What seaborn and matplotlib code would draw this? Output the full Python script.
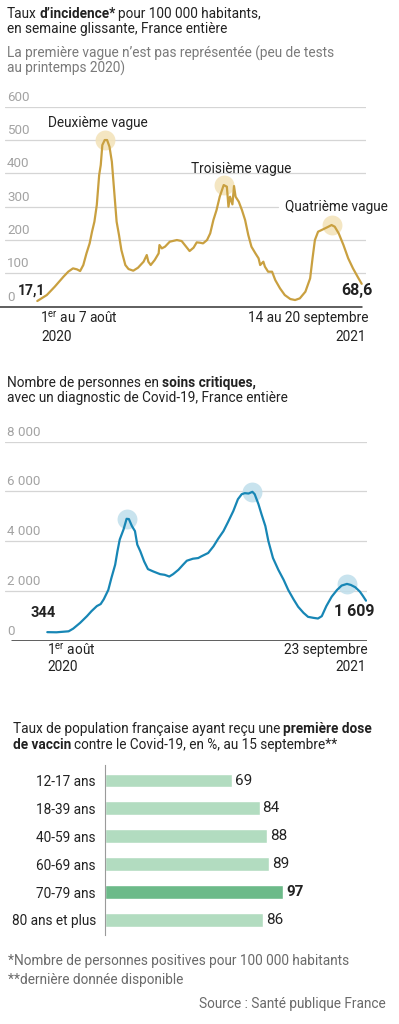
"""Covid-19 France: incidence, soins critiques et première dose de vaccin (infographie verticale)."""

import matplotlib
matplotlib.use("Agg")
import matplotlib.pyplot as plt
import seaborn as sns
import pandas as pd
import numpy as np

sns.set_theme(style="white")
plt.rcParams["font.family"] = ["Roboto", "DejaVu Sans"]
plt.rcParams["mathtext.fontset"] = "custom"
plt.rcParams["mathtext.rm"] = "Roboto"
plt.rcParams["mathtext.bf"] = "Roboto:bold"

# --- données -----------------------------------------------------------------
# taux d'incidence, jours depuis la semaine du 1er au 7 août 2020
inc_day = [0, 12, 22, 33, 39, 45, 50, 54, 58, 62, 66, 69, 72, 75, 78, 80, 82, 85, 88, 91,
           94, 97, 100, 103, 106, 111, 115, 121, 127, 134, 138, 140, 143, 148, 153, 154, 157, 161, 167, 176,
           182, 186, 192, 197, 201, 205, 209, 214, 218, 222, 226, 230, 235, 239, 241, 243, 246, 248, 250, 254,
           258, 262, 266, 270, 275, 279, 281, 285, 287, 291, 296, 300, 306, 312, 319, 325, 331, 338, 344, 347,
           350, 354, 361, 367, 371, 375, 380, 386, 392, 398, 405, 409]
inc_val = [17.1, 35, 60, 90, 105, 115, 112, 107, 125, 160, 190, 225, 255, 305, 395, 425, 485, 500, 500, 480,
           435, 345, 255, 215, 170, 125, 113, 108, 117, 135, 155, 135, 125, 140, 160, 185, 175, 180, 195, 200,
           197, 185, 167, 177, 193, 192, 190, 200, 220, 260, 290, 330, 365, 360, 300, 330, 307, 362, 330, 315,
           290, 260, 215, 180, 160, 145, 125, 135, 120, 105, 105, 80, 55, 35, 23, 20, 25, 45, 85, 145,
           200, 225, 233, 240, 245, 240, 220, 185, 145, 115, 85, 68.6]
inc_ticks = [0, 100, 200, 300, 400, 500, 600]
inc_waves = ["Deuxième vague", "Troisième vague", "Quatrième vague"]
inc_wave_windows = [(60, 120), (220, 260), (340, 400)]

# personnes en soins critiques, jours depuis le 1er août 2020
rea_day = [0, 12, 28, 34, 43, 52, 58, 65, 70, 74, 80, 84, 89, 92, 95, 100, 104, 107, 111, 115,
           118, 122, 127, 132, 139, 148, 154, 160, 165, 172, 178, 183, 191, 198, 202, 211, 218, 224, 231, 237,
           244, 250, 255, 259, 264, 269, 272, 277, 281, 286, 290, 296, 303, 310, 316, 323, 329, 336, 342, 349,
           355, 360, 366, 373, 380, 386, 393, 398, 404, 410, 414, 418]
rea_val = [344, 338, 378, 486, 716, 986, 1189, 1392, 1473, 1662, 2040, 2513, 3053, 3594, 4067, 4472, 4900, 4890, 4607, 4404,
           3864, 3594, 3188, 2878, 2783, 2675, 2648, 2580, 2675, 2851, 3053, 3215, 3296, 3323, 3391, 3526, 3796, 4094, 4404, 4769,
           5215, 5688, 5890, 5931, 5917, 5985, 5890, 5485, 5080, 4607, 3999, 3323, 2851, 2445, 2040, 1662, 1365, 1121, 959, 919,
           892, 986, 1392, 1770, 2040, 2216, 2283, 2243, 2148, 1972, 1797, 1609]
rea_ticks = [0, 2000, 4000, 6000, 8000]
rea_tick_labels = ["0", "2 000", "4 000", "6 000", "8 000"]
rea_wave_windows = [(80, 140), (230, 300), (370, 418)]

# première dose de vaccin, en %
age_groups = ["12-17 ans", "18-39 ans", "40-59 ans", "60-69 ans", "70-79 ans", "80 ans et plus"]
first_dose = [69, 84, 88, 89, 97, 86]
highlight_group = "70-79 ans"

# --- mise en page (pixels) ---------------------------------------------------
W, H = 399, 1024
fig = plt.figure(figsize=(W / 100, H / 100), dpi=100)
fig.patch.set_facecolor("white")
renderer = fig.canvas.get_renderer()

DARK = "#222222"
GOLD, GOLD_HALO = "#c9a040", "#f3e2b8"
BLUE, BLUE_HALO = "#1786b5", "#bfdeeb"
GRID = "#d5d5d5"
TICK = "#a3a3a3"
FS = 9.8


def px_axes(x0, y0, x1, y1):
    ax = fig.add_axes([x0 / W, 1 - y1 / H, (x1 - x0) / W, (y1 - y0) / H])
    ax.set_facecolor("none")
    for s in ax.spines.values():
        s.set_visible(False)
    return ax


def ftext(x, y, s, **kw):
    kw.setdefault("fontsize", FS)
    kw.setdefault("color", DARK)
    return fig.text(x / W, 1 - y / H, s, **kw)


def text_width(s, size, weight):
    t = fig.text(0, 0, s, fontsize=size, fontweight=weight)
    w = t.get_window_extent(renderer).width
    t.remove()
    return w


def rich(x, y, parts, size=FS, color=DARK):
    """Words in normal/bold laid out one after the other on a baseline."""
    for s, bold in parts:
        weight = "bold" if bold else "normal"
        ftext(round(x), y, s, fontsize=size, color=color, va="baseline", fontweight=weight)
        x += text_width(s + " x", size, weight) - text_width("x", size, weight) - 0.7


def line_panel(ax, days, vals, color, halo, windows, ticks, labels, short=None):
    df = pd.DataFrame({"day": days, "value": vals})
    for v, lab in zip(ticks, labels):
        if v == 0:
            continue
        xmax = short[1] if short and short[0] == v else 1
        ax.axhline(v, color=GRID, lw=0.9, xmax=xmax, zorder=0)
    for v, lab in zip(ticks, labels):
        ax.annotate(lab, xy=(0.006, v), xycoords=("axes fraction", "data"),
                    xytext=(0, 3), textcoords="offset pixels",
                    va="bottom", ha="left", fontsize=9.6, color=TICK)
    peaks = []
    for lo, hi in windows:
        sub = df[(df["day"] >= lo) & (df["day"] <= hi)]
        peaks.append(sub.loc[sub["value"].idxmax()])
    pk = pd.DataFrame(peaks)
    ax.scatter(pk["day"], pk["value"], s=205, color=halo, alpha=0.85, lw=0, zorder=1)
    sns.lineplot(data=df, x="day", y="value", color=color, lw=1.6, ax=ax, zorder=3)
    ax.set_xlabel("")
    ax.set_ylabel("")
    ax.set_xticks([])
    ax.set_yticks([])
    return df, pk


# --- 1. taux d'incidence ------------------------------------------------------
rich(7, 18, [("Taux", False), ("d’incidence*", True), ("pour 100 000 habitants,", False)])
rich(7, 33, [("en semaine glissante, France entière", False)])
rich(7, 58, [("La première vague n’est pas représentée (peu de tests", False)], color="#7a7a7a")
rich(7, 73, [("au printemps 2020)", False)], color="#7a7a7a")

ax1 = px_axes(5, 106.7, 366, 306.7)
dpp1 = (inc_day[-1] - inc_day[0]) / (361.7 - 37.3)
ax1.set_xlim(inc_day[0] - (37.3 - 5) * dpp1, inc_day[-1] + (366 - 361.7) * dpp1)
ax1.set_ylim(0, 600)
df1, pk1 = line_panel(ax1, inc_day, inc_val, GOLD, GOLD_HALO, inc_wave_windows,
                      inc_ticks, [str(t) for t in inc_ticks], short=(300, 0.757))
ax1.axhline(0, xmin=-5 / 361, xmax=0.989, color="#333333", lw=1.1, clip_on=False, zorder=4)
for (_, p), name, off in zip(pk1.iterrows(), inc_waves, [(-7, 13), (17, 12), (5, 14)]):
    ax1.annotate(name, xy=(p["day"], p["value"]), xytext=off, textcoords="offset pixels",
                 ha="center", va="baseline", fontsize=FS, color=DARK)
ax1.annotate(f"{inc_val[0]:.1f}".replace(".", ","), xy=(inc_day[0], inc_val[0]),
             xytext=(8, 10), textcoords="offset pixels", ha="right", va="center",
             fontsize=10, fontweight="bold", color=DARK)
ax1.annotate(f"{inc_val[-1]:.1f}".replace(".", ","), xy=(inc_day[-1], inc_val[-1]),
             xytext=(11, -7), textcoords="offset pixels", ha="right", va="center",
             fontsize=11.5, fontweight="bold", color=DARK)
ftext(40, 318, "1$^{\\mathrm{er}}$ au 7 août", va="center", ha="left")
ftext(41, 337, "2020", va="center", ha="left")
ftext(368, 318, "14 au 20 septembre", va="center", ha="right")
ftext(366, 337, "2021", va="center", ha="right")

# --- 2. soins critiques -------------------------------------------------------
rich(7, 387, [("Nombre de personnes en", False), ("soins critiques,", True)])
rich(7, 402, [("avec un diagnostic de Covid-19, France entière", False)])

ax2 = px_axes(5, 441.7, 367, 640.7)
dpp2 = (rea_day[-1] - rea_day[0]) / (366 - 47.3)
ax2.set_xlim(rea_day[0] - (47.3 - 5) * dpp2, rea_day[-1] + (367 - 366) * dpp2)
ax2.set_ylim(0, 8000)
df2, pk2 = line_panel(ax2, rea_day, rea_val, BLUE, BLUE_HALO, rea_wave_windows,
                      rea_ticks, rea_tick_labels)
ax2.axhline(0, xmin=7 / 362, xmax=1, color="#333333", lw=1.1, zorder=4)
ax2.annotate(f"{rea_val[0]}", xy=(rea_day[0], rea_val[0]), xytext=(8, 19),
             textcoords="offset pixels", ha="right", va="center",
             fontsize=10.5, fontweight="bold", color=DARK)
ax2.annotate(f"{rea_val[-1]:,}".replace(",", " "), xy=(rea_day[-1], rea_val[-1]),
             xytext=(9, -11), textcoords="offset pixels", ha="right", va="center",
             fontsize=11.5, fontweight="bold", color=DARK)
ftext(47, 650, "1$^{\\mathrm{er}}$ août", va="center", ha="left")
ftext(47, 667, "2020", va="center", ha="left")
ftext(368, 650, "23 septembre", va="center", ha="right")
ftext(366, 667, "2021", va="center", ha="right")

# --- 3. première dose ---------------------------------------------------------
rich(13, 733, [("Taux de population française ayant reçu une", False), ("première dose", True)])
rich(13, 749, [("de vaccin", True), ("contre le Covid-19, en %, au 15 septembre**", False)])

ax3 = px_axes(105, 765, 300, 935)
vacc = pd.DataFrame({"group": age_groups, "pct": first_dose})
palette = {g: ("#6cba89" if g == highlight_group else "#b2dcc0") for g in age_groups}
sns.barplot(data=vacc, x="pct", y="group", hue="group", palette=palette, orient="h",
            width=0.5, legend=False, ax=ax3, saturation=1)
ax3.set_xlim(0, (300 - 105) / 1.84)
ax3.set_ylim(5.54, -0.556)
ax3.set_xlabel("")
ax3.set_ylabel("")
ax3.set_xticks([])
ax3.set_yticks(range(len(age_groups)))
ax3.set_yticklabels(age_groups)
ax3.spines["left"].set_visible(True)
ax3.spines["left"].set_color("#9a9a9a")
ax3.spines["left"].set_linewidth(0.8)
ax3.tick_params(axis="y", left=False, length=0, pad=6.5, labelsize=FS, labelcolor=DARK)
for i, (g, v) in enumerate(zip(age_groups, first_dose)):
    ax3.annotate(str(v), xy=(v, i), xytext=(3, 0), textcoords="offset pixels",
                 va="center", ha="left", fontsize=11, color=DARK,
                 fontweight="bold" if g == highlight_group else "normal")

# --- notes --------------------------------------------------------------------
ftext(8, 965, "*Nombre de personnes positives pour 100 000 habitants", color="#6a6a6a", va="baseline")
ftext(8, 984, "**dernière donnée disponible", color="#6a6a6a", va="baseline")
ftext(386, 1008, "Source : Santé publique France", color="#6a6a6a", va="baseline", ha="right")

fig.savefig("out.png", dpi=100, facecolor="white")
